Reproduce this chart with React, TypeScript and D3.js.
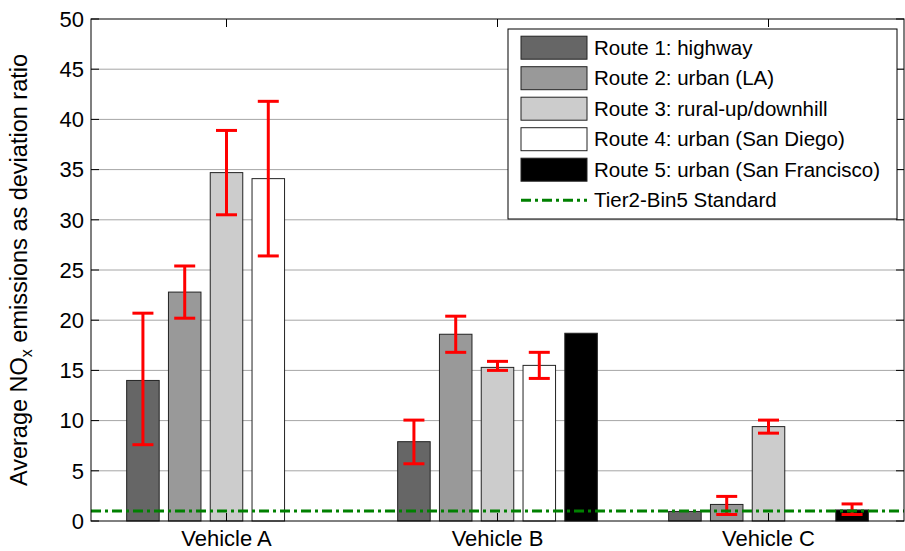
import React, { useEffect, useRef } from 'react';
import * as d3 from 'd3';

const vehicles = ['Vehicle A', 'Vehicle B', 'Vehicle C'];
const routeNames = [
  'Route 1: highway',
  'Route 2: urban (LA)',
  'Route 3: rural-up/downhill',
  'Route 4: urban (San Diego)',
  'Route 5: urban (San Francisco)',
];
const routeColors = ['#666666', '#999999', '#cccccc', '#ffffff', '#000000'];

// mean values per route, one entry per vehicle
const route1 = [14.0, 7.9, 0.95];
const route2 = [22.8, 18.6, 1.65];
const route3 = [34.7, 15.3, 9.4];
const route4 = [34.1, 15.5, 0];
const route5 = [0, 18.7, 1.1];

// error bar limits (null = no bar drawn)
const route1Low = [7.6, 5.7, null];
const route1High = [20.7, 10.05, null];
const route2Low = [20.2, 16.8, 0.65];
const route2High = [25.4, 20.4, 2.45];
const route3Low = [30.5, 15.0, 8.75];
const route3High = [38.9, 15.9, 10.05];
const route4Low = [26.4, 14.2, null];
const route4High = [41.8, 16.8, null];
const route5Low = [null, null, 0.65];
const route5High = [null, null, 1.7];

const standardLabel = 'Tier2-Bin5 Standard';
const standardValue = 1.0;
const yTicks = [0, 5, 10, 15, 20, 25, 30, 35, 40, 45, 50];

const FONT = '"Liberation Sans", Arial, Helvetica, sans-serif';

const App = () => {
  const ref = useRef<SVGSVGElement>(null);

  useEffect(() => {
    const svg = d3.select(ref.current);
    svg.selectAll('*').remove();

    const width = 905;
    const height = 551;
    const left = 91, right = 904, top = 19, bottom = 521;

    svg.attr('width', width).attr('height', height);

    const series = [route1, route2, route3, route4, route5];
    const lows = [route1Low, route2Low, route3Low, route4Low, route5Low];
    const highs = [route1High, route2High, route3High, route4High, route5High];

    const x = d3.scaleLinear().domain([0.5, 3.5]).range([left, right]);
    const y = d3.scaleLinear().domain([0, 50]).range([bottom, top]);

    const step = 0.1542;
    const barW = 0.12;
    const pxW = x(barW) - x(0);

    // grid
    svg.append('g')
      .selectAll('line')
      .data(yTicks.filter(d => d > 0 && d < 50))
      .join('line')
      .attr('x1', left).attr('x2', right)
      .attr('y1', d => y(d)).attr('y2', d => y(d))
      .attr('stroke', '#a6a6a6')
      .attr('stroke-width', 1);

    // bars
    const bars = series.flatMap((vals, r) =>
      vals.map((v, i) => ({ r, v, cx: i + 1 + (r - 2) * step })));

    svg.append('g')
      .selectAll('rect')
      .data(bars)
      .join('rect')
      .attr('x', d => x(d.cx) - pxW / 2)
      .attr('y', d => y(d.v))
      .attr('width', pxW)
      .attr('height', d => y(0) - y(d.v))
      .attr('fill', d => routeColors[d.r])
      .attr('stroke', '#222')
      .attr('stroke-width', 1);

    // error bars
    const errs = lows.flatMap((lo, r) =>
      lo.map((l, i) => ({ l, h: highs[r][i], cx: i + 1 + (r - 2) * step }))
    ).filter(d => d.l !== null && d.h !== null) as { l: number; h: number; cx: number }[];

    const cap = 10.5;
    const eg = svg.append('g').attr('stroke', '#ff0000').attr('stroke-width', 3);
    errs.forEach(d => {
      const cx = x(d.cx);
      eg.append('line').attr('x1', cx).attr('x2', cx).attr('y1', y(d.l)).attr('y2', y(d.h));
      eg.append('line').attr('x1', cx - cap).attr('x2', cx + cap).attr('y1', y(d.l)).attr('y2', y(d.l));
      eg.append('line').attr('x1', cx - cap).attr('x2', cx + cap).attr('y1', y(d.h)).attr('y2', y(d.h));
    });

    // standard line
    svg.append('line')
      .attr('x1', left).attr('x2', right)
      .attr('y1', y(standardValue)).attr('y2', y(standardValue))
      .attr('stroke', '#008000')
      .attr('stroke-width', 3)
      .attr('stroke-dasharray', '10,4,3,4');

    // frame
    svg.append('rect')
      .attr('x', left).attr('y', top)
      .attr('width', right - left).attr('height', bottom - top)
      .attr('fill', 'none').attr('stroke', '#000').attr('stroke-width', 1);

    // ticks
    const tk = svg.append('g').attr('stroke', '#000').attr('stroke-width', 1);
    yTicks.forEach(t => {
      tk.append('line').attr('x1', left).attr('x2', left + 8).attr('y1', y(t)).attr('y2', y(t));
      tk.append('line').attr('x1', right - 8).attr('x2', right).attr('y1', y(t)).attr('y2', y(t));
    });
    vehicles.forEach((_, i) => {
      tk.append('line').attr('x1', x(i + 1)).attr('x2', x(i + 1)).attr('y1', bottom).attr('y2', bottom - 8);
      tk.append('line').attr('x1', x(i + 1)).attr('x2', x(i + 1)).attr('y1', top).attr('y2', top + 8);
    });

    svg.append('g')
      .selectAll('text')
      .data(yTicks)
      .join('text')
      .attr('x', left - 7)
      .attr('y', d => y(d))
      .attr('dy', '0.35em')
      .attr('text-anchor', 'end')
      .attr('font-family', FONT)
      .attr('font-size', 22)
      .text(d => d);

    svg.append('g')
      .selectAll('text')
      .data(vehicles)
      .join('text')
      .attr('x', (_, i) => x(i + 1))
      .attr('y', 546)
      .attr('text-anchor', 'middle')
      .attr('font-family', FONT)
      .attr('font-size', 22)
      .text(d => d);

    // y label
    const yl = svg.append('text')
      .attr('transform', 'translate(27,270) rotate(-90)')
      .attr('text-anchor', 'middle')
      .attr('font-family', FONT)
      .attr('font-size', 23.5);
    yl.append('tspan').text('Average NO');
    yl.append('tspan').attr('font-size', 16).attr('dy', 5).text('x');
    yl.append('tspan').attr('dy', -5).text(' emissions as deviation ratio');

    // legend
    const lg = svg.append('g');
    lg.append('rect')
      .attr('x', 508).attr('y', 29).attr('width', 389).attr('height', 190)
      .attr('fill', '#fff').attr('stroke', '#000').attr('stroke-width', 1);
    const rowY = (i: number) => 47.7 + i * 30.5;
    routeNames.forEach((name, i) => {
      lg.append('rect')
        .attr('x', 521).attr('y', rowY(i) - 11.5).attr('width', 66).attr('height', 23)
        .attr('fill', routeColors[i]).attr('stroke', '#222').attr('stroke-width', 1);
      lg.append('text')
        .attr('x', 594).attr('y', rowY(i)).attr('dy', '0.35em')
        .attr('font-family', FONT).attr('font-size', 20.5)
        .text(name);
    });
    lg.append('line')
      .attr('x1', 521).attr('x2', 587).attr('y1', rowY(5)).attr('y2', rowY(5))
      .attr('stroke', '#008000').attr('stroke-width', 3)
      .attr('stroke-dasharray', '10,4,3,4');
    lg.append('text')
      .attr('x', 594).attr('y', rowY(5)).attr('dy', '0.35em')
      .attr('font-family', FONT).attr('font-size', 20.5)
      .text(standardLabel);
  }, []);

  return (
    <svg ref={ref} style={{ position: 'absolute', left: 0, top: 0, background: '#fff' }}></svg>
  );
};

export default App;
